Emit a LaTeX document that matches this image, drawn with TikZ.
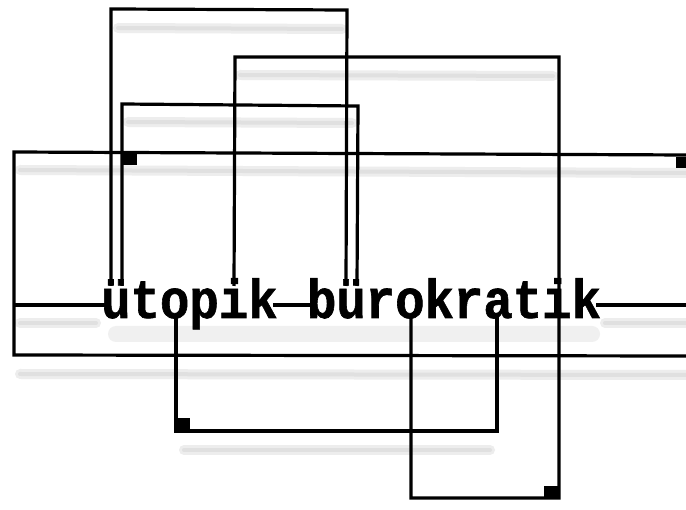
\documentclass[tikz,border=0pt]{standalone}
\usepackage{fontspec}
\newfontfamily\wirefont{Liberation Mono}[BoldFeatures={FakeBold=1.2}]
\begin{document}
\begin{tikzpicture}[x=1pt,y=-1pt,
  wire/.style={line width=3.2pt, line join=miter, black},
  blob/.style={fill=black},
  shadowline/.style={line width=10pt, black!7, line cap=round},
  shadowcore/.style={line width=4pt, black!12, line cap=round},
  word/.style={anchor=base west, inner sep=0pt, font=\wirefont\bfseries\fontsize{49pt}{49pt}\selectfont}]
\useasboundingbox (0,0) rectangle (686,510);
\fill[white] (0,0) rectangle (686,510);

% ---- shadows (soft grey bands under horizontal wires and text) ----
\foreach \a/\b/\c/\d in {118/28/342/29, 240/75/553/76, 128/122/352/123,
  20/170/686/173, 20/323/96/323, 605/323/686/323, 20/374/686/375, 184/450/490/450}{
  \draw[shadowline] (\a,\b) -- (\c,\d);
  \draw[shadowcore] (\a,\b) -- (\c,\d);
}
\fill[black!6, rounded corners=8pt] (108,326) rectangle (600,342);

% ---- text ----
\node[word] (w1) at (101,318) {\scalebox{1}[1.12]{ütopik}};
\node[word] (w2) at (306.8,318) {\scalebox{1}[1.12]{bürokratik}};

% ---- named points ----
\coordinate (uA) at (111,286);  \coordinate (uC) at (122,286);
\coordinate (vA) at (346,286);  \coordinate (vC) at (357,286);
\coordinate (iB) at (234,286);
\coordinate (oD) at (176,316);  \coordinate (aD) at (497,316);
\coordinate (oE) at (411,316);
\coordinate (L1) at (14,305);   \coordinate (R1) at (686,305);

% ---- outer frame ----
\draw[wire] (686,155) -- (14,152) -- (14,355) -- (686,356);
\draw[wire] (L1) -- ([xshift=5pt]w1.west |- L1);
\draw[wire] ([xshift=-5pt]w1.east |- L1) -- ([xshift=5pt]w2.west |- L1);
\draw[wire] ([xshift=-5pt]w2.east |- L1) -- (R1);

% ---- upper loops ----
\draw[wire] (uA) -- (111,9) -- (347,10) -- (vA);
\draw[wire] (uC) -- (122,104) -- (358,106) -- (vC);
\draw[wire] (iB) -- (235,57) -- (559,57) -- (559,498) -- (411,498) -- (oE);

% ---- lower loop ----
\draw[wire] (oD) -- (176,431) -- (497,431) -- (aD);

% ---- small square blocks ----
\fill[blob] (123,153) rectangle (137,165);
\fill[blob] (676,157) rectangle (686,168);
\fill[blob] (175,418) rectangle (190,432);
\fill[blob] (544,486) rectangle (559,499);
\end{tikzpicture}
\end{document}
